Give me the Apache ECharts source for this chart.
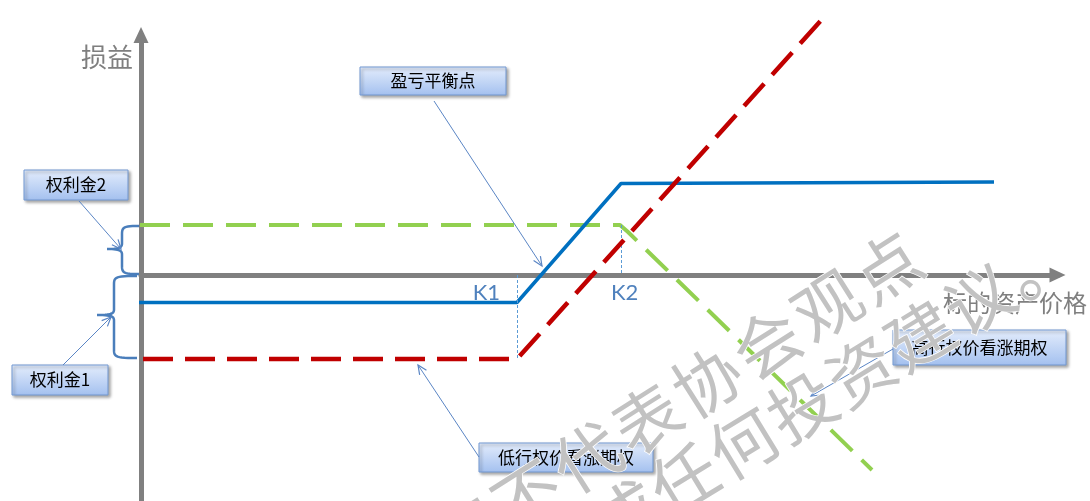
<!DOCTYPE html>
<html>
<head>
<meta charset="utf-8">
<script src="https://cdn.jsdelivr.net/npm/echarts@6/dist/echarts.min.js"></script>
<style>
html,body{margin:0;padding:0;background:#fff;}
#c{width:1090px;height:501px;}
</style>
</head>
<body>
<div id="c"></div>
<script>
// ---- data (x: underlying price units, y: profit/loss units) ----
const strikes = [37.6, 48.0];                 // K1, K2
const strikeLabels = ['K1', 'K2'];
const spreadPayoff   = [[-0.4, -5.5], [37.6, -5.5], [48.0, 18.3], [85.3, 18.6]];   // 组合损益
const longCallPayoff = [[0.2, -16.8], [37.6, -16.8], [68.7, 52.5]];                // 低行权价看涨期权
const shortCallPayoff = [[-0.1, 10.0], [47.9, 10.0], [48.7, 8.6], [73.1, -39.0]]; // 高行权价看涨期权
const premiums = [-16.8, 10.0];               // 权利金1 (paid), 权利金2 (received)
const axisNames = ['标的资产价格', '损益'];
const calloutTexts = ['权利金2', '权利金1', '盈亏平衡点', '低行权价看涨期权', '高行权价看涨期权'];
const watermarkLines = ['本材料内容不代表协会观点', '不构成任何投资建议。'];

const chart = echarts.init(document.getElementById('c'), null, {renderer: 'canvas'});

const AX = '#808080';
const CALL = '#5b86c5';
const BR = '#4a7ebb';

function arrow(x1, y1, x2, y2) {
  const ang = Math.atan2(y2 - y1, x2 - x1);
  const L = 10, a = 0.42;
  const p1 = [x2 - L * Math.cos(ang - a), y2 - L * Math.sin(ang - a)];
  const p2 = [x2 - L * Math.cos(ang + a), y2 - L * Math.sin(ang + a)];
  return [
    {type: 'line', z: 10, shape: {x1, y1, x2, y2}, style: {stroke: CALL, lineWidth: 1}},
    {type: 'polyline', z: 10, shape: {points: [p1, [x2, y2], p2]}, style: {stroke: CALL, lineWidth: 1.2, fill: null}}
  ];
}

// build a brace outline from cubic segments [p0, c1, c2, p1]
function cubicPts(segs) {
  const pts = [];
  segs.forEach(s => {
    const [p0, c1, c2, p1] = s;
    for (let i = 0; i <= 12; i++) {
      const t = i / 12, u = 1 - t;
      pts.push([
        u*u*u*p0[0] + 3*u*u*t*c1[0] + 3*u*t*t*c2[0] + t*t*t*p1[0],
        u*u*u*p0[1] + 3*u*u*t*c1[1] + 3*u*t*t*c2[1] + t*t*t*p1[1]
      ]);
    }
  });
  return pts;
}
function brace(xEnd, xMid, xTip, yTop, yTip, yBot) {
  const r = 8;
  const pts = cubicPts([
    [[xEnd, yTop], [xMid + 2, yTop], [xMid, yTop + 1], [xMid, yTop + r]],
    [[xMid, yTop + r], [xMid, yTop + r], [xMid, yTip - r], [xMid, yTip - r / 1.5]],
    [[xMid, yTip - r / 1.5], [xMid, yTip - 1], [xMid - 4, yTip], [xTip, yTip]],
    [[xTip, yTip], [xMid - 4, yTip], [xMid, yTip + 1], [xMid, yTip + r / 1.5]],
    [[xMid, yTip + r / 1.5], [xMid, yTip + r], [xMid, yBot - r], [xMid, yBot - r]],
    [[xMid, yBot - r], [xMid, yBot - 1], [xMid + 2, yBot], [xEnd, yBot]]
  ]);
  return {type: 'polyline', z: 10, shape: {points: pts}, style: {stroke: BR, lineWidth: 2.5, fill: null}};
}

function box(x, y, w, h, text) {
  return {
    type: 'group', x, y, z: 10,
    children: [
      {type: 'rect', z: 10, shape: {x: 0, y: 0, width: w, height: h},
        style: {
          fill: {type: 'linear', x: 0, y: 0, x2: 0, y2: 1,
            colorStops: [{offset: 0, color: '#e4edfc'}, {offset: 1, color: '#a3c0ef'}]},
          stroke: '#7399d3', lineWidth: 1,
          shadowBlur: 3, shadowOffsetX: 2, shadowOffsetY: 2, shadowColor: 'rgba(0,0,0,0.35)'
        }},
      {type: 'text', z: 11, x: w / 2, y: h / 2,
        style: {text, fill: '#000', font: '17px "Noto Sans CJK SC"', align: 'center', verticalAlign: 'middle'}}
    ]
  };
}

function watermark(line, idx0, cx0, cy0, dx, dy) {
  const rot = Math.atan2(-dy, dx);
  const chars = Array.from(line);
  return chars.map((ch, i) => ({
    type: 'text', z: 50,
    x: cx0 + (i - idx0) * dx, y: cy0 + (i - idx0) * dy,
    rotation: rot,
    style: {text: ch, fill: '#c2c2c2', font: '67px "Noto Sans CJK SC"',
      align: 'center', verticalAlign: 'middle', stroke: '#ffffff', lineWidth: 1.5}
  }));
}

const graphics = [
  {type: 'text', z: 10, x: 133, y: 57, style: {text: axisNames[1], fill: '#7f7f7f', font: '26px "Noto Sans CJK SC"', align: 'right', verticalAlign: 'middle'}},
  {type: 'text', z: 10, x: 1087, y: 303, style: {text: axisNames[0], fill: '#7f7f7f', font: '24px "Noto Sans CJK SC"', align: 'right', verticalAlign: 'middle'}},
  {type: 'text', z: 10, x: 500, y: 293, style: {text: strikeLabels[0], fill: '#4f81bd', font: '22px Lato', align: 'right', verticalAlign: 'middle'}},
  {type: 'text', z: 10, x: 611, y: 293, style: {text: strikeLabels[1], fill: '#4f81bd', font: '22px Lato', align: 'left', verticalAlign: 'middle'}},
  brace(139, 122, 107, 226, 249, 274),
  brace(137, 114, 97, 276, 315, 358),
  box(24, 170, 104, 30, calloutTexts[0]),
  box(12, 365, 96, 30, calloutTexts[1]),
  box(360, 67, 146, 28, calloutTexts[2]),
  box(479, 443, 174, 29, calloutTexts[3]),
  box(893, 330, 173, 35, calloutTexts[4]),
  ...arrow(79, 201, 121, 249),
  ...arrow(63, 365, 111, 317),
  ...arrow(434, 101, 542, 266),
  ...arrow(479, 457, 418, 365),
  ...arrow(893, 349, 811, 396),
  ...watermark(watermarkLines[0], 11, 887, 267, 60, -38),
  ...watermark(watermarkLines[1], 3, 684, 479, 59, -36)
];

const option = {
  animation: false,
  backgroundColor: '#ffffff',
  grid: {left: 141, right: 32.5, top: 35, bottom: 0, containLabel: false},
  xAxis: {
    type: 'value', min: 0, max: 91.65,
    axisLine: {onZero: true, symbol: ['none', 'triangle'], symbolSize: [15, 16], lineStyle: {color: AX, width: 5}},
    axisTick: {show: false}, axisLabel: {show: false}, splitLine: {show: false}
  },
  yAxis: {
    type: 'value', min: -45.2, max: 48,
    axisLine: {onZero: true, symbol: ['none', 'triangle'], symbolSize: [15, 16], lineStyle: {color: AX, width: 5}},
    axisTick: {show: false}, axisLabel: {show: false}, splitLine: {show: false}
  },
  series: [
    {
      type: 'line', name: '高行权价看涨期权', data: shortCallPayoff, symbol: 'none', clip: false, z: 3,
      lineStyle: {color: '#92d050', width: 4, type: [30, 13], cap: 'butt'},
      markLine: {
        silent: true, symbol: 'none', label: {show: false},
        lineStyle: {color: '#5b9bd5', width: 1, type: [3, 2]},
        data: [
          [{coord: [strikes[0], 0]}, {coord: [strikes[0], premiums[0]]}],
          [{coord: [strikes[1], premiums[1]]}, {coord: [strikes[1], 0]}]
        ]
      }
    },
    {
      type: 'line', name: '组合', data: spreadPayoff, symbol: 'none', clip: false, z: 4,
      lineStyle: {color: '#0070c0', width: 3.5}
    },
    {
      type: 'line', name: '低行权价看涨期权', data: longCallPayoff, symbol: 'none', clip: false, z: 5,
      lineStyle: {color: '#c00000', width: 4.5, type: [30, 12], cap: 'butt'}
    }
  ],
  graphic: graphics
};

chart.setOption(option);
</script>
</body>
</html>
